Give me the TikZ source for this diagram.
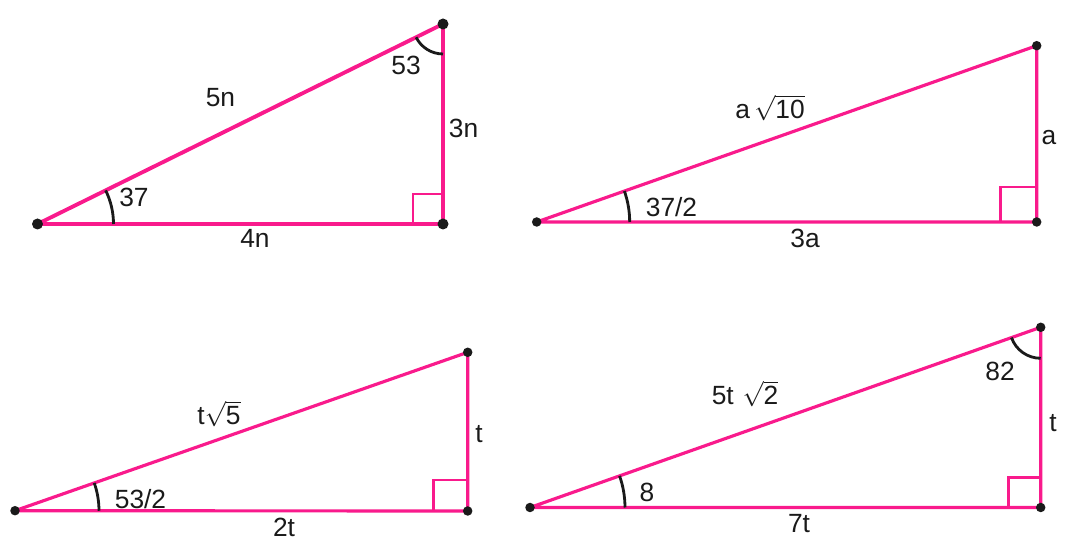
\documentclass[tikz,border=0pt]{standalone}
\usepackage{fontspec}
\setmainfont{Liberation Sans}
\usetikzlibrary{angles}
\definecolor{sidepink}{HTML}{F91A8C}
\definecolor{inkblack}{HTML}{1A1A1A}
\tikzset{
  side/.style={draw=sidepink, line width=1.8pt, line join=round},
  sq/.style={draw=sidepink, line width=1.4pt},
  vdot/.style={circle, fill=inkblack, inner sep=0pt, minimum size=#1},
  vdot/.default=0.19cm,
  lbl/.style={font=\fontsize{15}{17}\selectfont, text=inkblack, inner sep=0pt},
  arcmark/.style={draw=inkblack, line width=1.6pt},
}

\begin{document}
\begin{tikzpicture}[x=0.02cm, y=-0.02cm]
  \useasboundingbox (0,0) rectangle (1088,546);
  % Triangle 3-4-5
  \coordinate (A1) at (37.5,224);
  \coordinate (B1) at (443,224);
  \coordinate (C1) at (443,24);
  \draw[side, line width=2.2pt] (A1) -- (B1) -- (C1) -- cycle;
  \draw[sq] (B1) ++(-30,0) -- ++(0,-30) -- ++(30,0);
  \pic[arcmark, angle radius=1.52cm] {angle=B1--A1--C1};
  \pic[arcmark, angle radius=0.6cm] {angle=A1--C1--B1};
  \foreach \p in {A1,B1,C1} \node[vdot=0.22cm] (d\p) at (\p) {};
  \node[lbl] (l5n) at (220.5,98) {5n};
  \node[lbl] (l3n) at (463.5,128) {3n};
  \node[lbl] (l4n) at (255,238) {4n};
  \node[lbl] (l37) at (134,197) {37};
  \node[lbl] (l53) at (406,65) {53};
  % Triangle 1-3-sqrt10
  \coordinate (A2) at (536.7,222);
  \coordinate (B2) at (1036.7,222);
  \coordinate (C2) at (1036.7,45.7);
  \draw[side] (A2) -- (B2) -- (C2) -- cycle;
  \draw[sq] (B2) ++(-36,0) -- ++(0,-35) -- ++(36,0);
  \pic[arcmark, angle radius=1.86cm] {angle=B2--A2--C2};
  \foreach \p in {A2,B2,C2} \node[vdot] (d\p) at (\p) {};
  \node[lbl] (la10) at (770,108) {a\,$\sqrt{\mbox{10}}$};
  \node[lbl] (la) at (1049,138) {a};
  \node[lbl] (l3a) at (805,238) {3a};
  \node[lbl] (l372) at (671.5,207) {37/2};
  % Triangle 1-2-sqrt5
  \coordinate (A3) at (15,510.7);
  \coordinate (B3) at (467.7,511);
  \coordinate (C3) at (467.7,352.3);
  \draw[side] (A3) -- (B3) -- (C3) -- cycle;
  \draw[sq] (B3) ++(-34,0) -- ++(0,-31) -- ++(34,0);
  \pic[arcmark, angle radius=1.68cm] {angle=B3--A3--C3};
  \foreach \p in {A3,B3,C3} \node[vdot] (d\p) at (\p) {};
  \node[lbl] (lt5) at (219,414) {t$\sqrt{\mbox{5}}$};
  \node[lbl] (lt) at (479,434) {t};
  \node[lbl] (l2t) at (284,527) {2t};
  \node[lbl] (l532) at (140.5,499) {53/2};
  % Triangle 1-7-5sqrt2
  \coordinate (A4) at (530,507.5);
  \coordinate (B4) at (1040.7,507.5);
  \coordinate (C4) at (1040.7,327.3);
  \draw[side] (A4) -- (B4) -- (C4) -- cycle;
  \draw[sq] (B4) ++(-32,0) -- ++(0,-30) -- ++(32,0);
  \pic[arcmark, angle radius=1.9cm] {angle=B4--A4--C4};
  \pic[arcmark, angle radius=0.62cm] {angle=A4--C4--B4};
  \foreach \p in {A4,B4,C4} \node[vdot] (d\p) at (\p) {};
  \node[lbl] (l5t2) at (745,394) {5t\,\,$\sqrt{\mbox{2}}$};
  \node[lbl] (ltt) at (1053,423) {t};
  \node[lbl] (l7t) at (799,524) {7t};
  \node[lbl] (l8) at (647,492) {8};
  \node[lbl] (l82) at (1000,371) {82};
\end{tikzpicture}
\end{document}
